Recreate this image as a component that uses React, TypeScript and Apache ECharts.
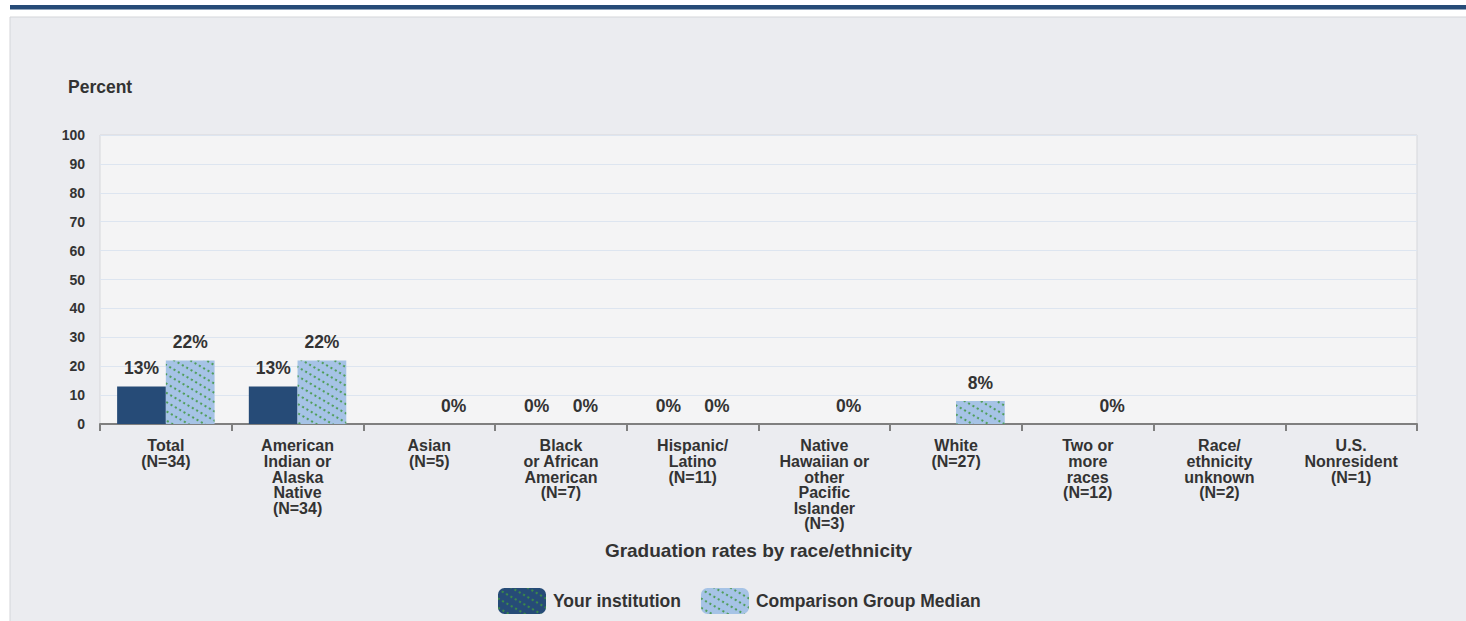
import React, { useEffect, useRef } from "react";
import * as echarts from "echarts";

const categories: string[] = [
  "Total\n(N=34)",
  "American\nIndian or\nAlaska\nNative\n(N=34)",
  "Asian\n(N=5)",
  "Black\nor African\nAmerican\n(N=7)",
  "Hispanic/\nLatino\n(N=11)",
  "Native\nHawaiian or\nother\nPacific\nIslander\n(N=3)",
  "White\n(N=27)",
  "Two or\nmore\nraces\n(N=12)",
  "Race/\nethnicity\nunknown\n(N=2)",
  "U.S.\nNonresident\n(N=1)",
];

const yourInstitution: (number | null)[] = [13, 13, null, 0, 0, null, null, null, null, null];
const comparisonMedian: (number | null)[] = [22, 22, 0, 0, 0, 0, 8, 0, null, null];

const seriesNames: string[] = ["Your institution", "Comparison Group Median"];
const yTicks = { min: 0, max: 100, interval: 10 };

const DARK = "#264b77";
const LIGHT = "#a6c3e6";
const DOT = "#3f9640";
const TEXT = "#333333";
const FONT = "Liberation Sans, Arial, sans-serif";

const decal = {
  symbol: "circle",
  symbolSize: 1,
  color: DOT,
  dashArrayX: [2, 2.5],
  dashArrayY: [2, 6],
  rotation: Math.PI / 6,
};

export default function App() {
  const ref = useRef<HTMLDivElement>(null);
  useEffect(() => {
    document.body.style.margin = "0";
    if (!ref.current) return;
    const chart = echarts.init(ref.current, undefined, { renderer: "svg" });
    const labelStyle = {
      show: true,
      position: "top" as const,
      distance: 9,
      formatter: "{c}%",
      fontFamily: FONT,
      fontWeight: "bold" as const,
      fontSize: 17.5,
      color: TEXT,
    };
    chart.setOption({
      animation: false,
      aria: { enabled: true, decal: { show: true } },
      backgroundColor: "#ffffff",
      graphic: [
        {
          type: "rect",
          z: -10,
          shape: { x: 10, y: 17, width: 1470, height: 620 },
          style: { fill: "#ebecf0", stroke: "#d4d5d9", lineWidth: 1 },
          silent: true,
        },
        {
          type: "rect",
          z: -10,
          shape: { x: 10, y: 5, width: 1460, height: 4.5 },
          style: { fill: "#264b77" },
          silent: true,
        },
        {
          type: "text",
          x: 68,
          y: 87,
          style: {
            text: "Percent",
            fontFamily: FONT,
            fontWeight: "bold",
            fontSize: 17.5,
            fill: TEXT,
            verticalAlign: "middle",
          },
        },
      ],
      legend: {
        bottom: 2,
        left: 493,
        itemWidth: 48,
        itemHeight: 26,
        itemGap: 20,
        icon: "roundRect",
        textStyle: { fontFamily: FONT, fontWeight: "bold", fontSize: 17.5, color: TEXT, padding: [0, 0, 0, 2] },
        data: [
          { name: seriesNames[0], itemStyle: { decal: decal } },
          { name: seriesNames[1], itemStyle: { decal: decal } },
        ],
      },
      grid: {
        left: 100,
        top: 135,
        right: 49,
        bottom: 197,
        show: true,
        backgroundColor: "#f4f4f5",
        borderColor: "#d6d7db",
        borderWidth: 1,
      },
      xAxis: {
        type: "category",
        data: categories,
        name: "Graduation rates by race/ethnicity",
        nameLocation: "middle",
        nameGap: 117,
        nameTextStyle: { fontFamily: FONT, fontWeight: "bold", fontSize: 19, color: TEXT, verticalAlign: "top" },
        axisLine: { lineStyle: { color: "#7f7f7f", width: 2 } },
        axisTick: { show: true, length: 7, lineStyle: { color: "#7f7f7f", width: 2 } },
        axisLabel: {
          interval: 0,
          margin: 14,
          fontFamily: FONT,
          fontWeight: "bold",
          fontSize: 16,
          lineHeight: 15.6,
          color: TEXT,
        },
        splitLine: { show: false },
      },
      yAxis: {
        type: "value",
        min: yTicks.min,
        max: yTicks.max,
        interval: yTicks.interval,
        axisLine: { show: false },
        axisTick: { show: false },
        axisLabel: { margin: 15, fontFamily: FONT, fontWeight: "bold", fontSize: 14, color: TEXT },
        splitLine: { lineStyle: { color: "#dde5f0", width: 1 } },
      },
      series: [
        {
          name: seriesNames[0],
          type: "bar",
          data: yourInstitution,
          barGap: "0%",
          barCategoryGap: "26%",
          itemStyle: { color: DARK, decal: { symbol: "none" } },
          label: labelStyle,
        },
        {
          name: seriesNames[1],
          type: "bar",
          data: comparisonMedian,
          barGap: "0%",
          barCategoryGap: "26%",
          itemStyle: { color: LIGHT, decal: decal },
          label: labelStyle,
        },
      ],
    });
    return () => chart.dispose();
  }, []);
  return <div ref={ref} style={{ width: 1466, height: 621 }} />;
}
